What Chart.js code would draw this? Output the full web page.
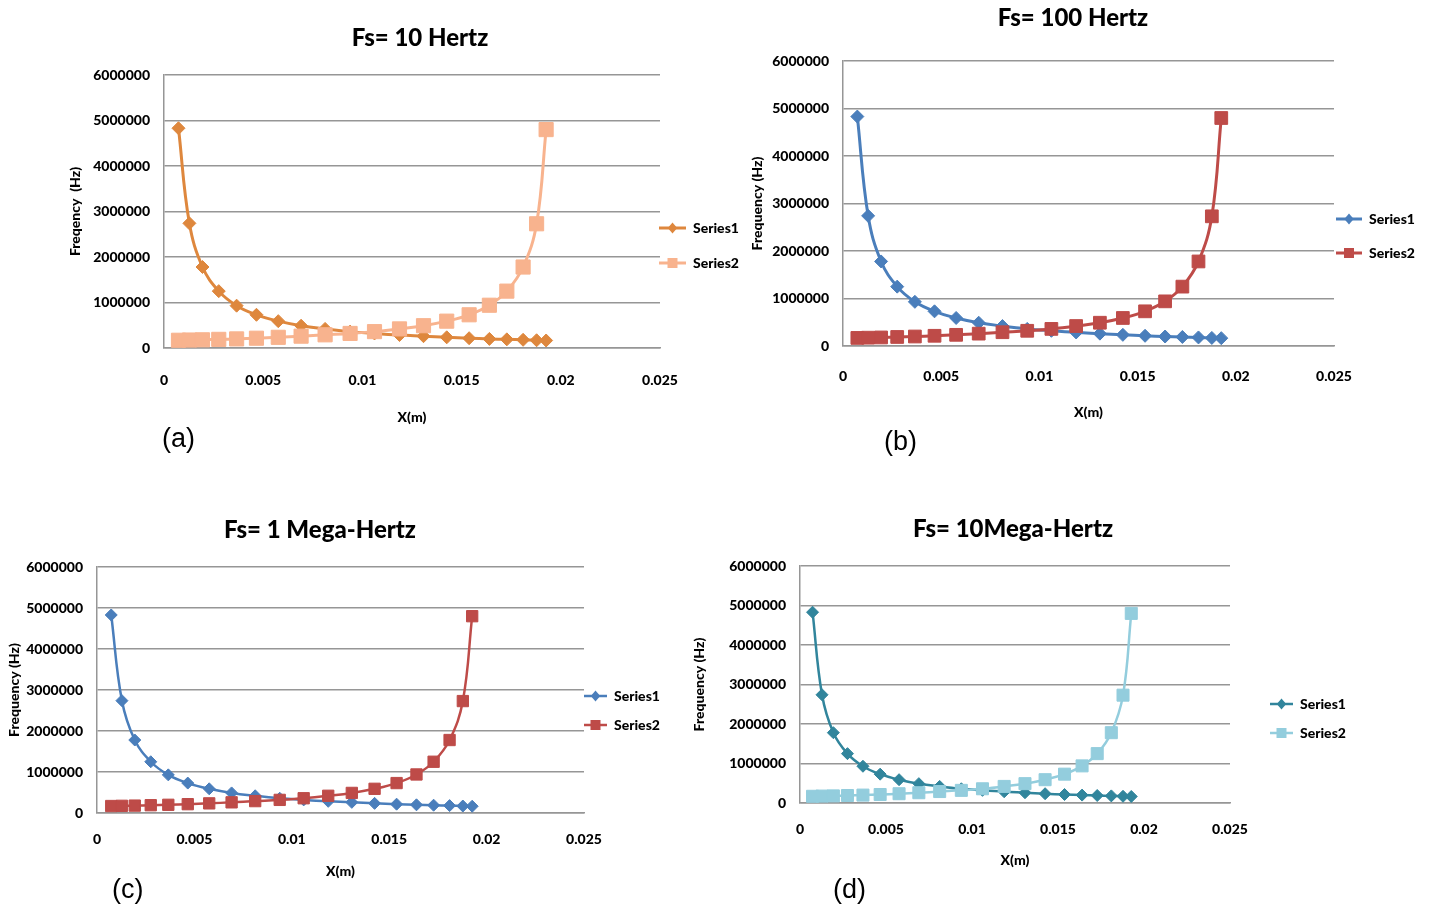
<!DOCTYPE html>
<html><head><meta charset="utf-8">
<script src="https://cdn.jsdelivr.net/npm/chart.js@4.4.1/dist/chart.umd.min.js"></script>
<style>
html,body{margin:0;padding:0;background:#fff;}
#wrap{position:relative;width:1429px;height:911px;overflow:hidden;background:#fff;}
canvas{position:absolute;left:0;top:0;}
.tag{position:absolute;font-family:"Liberation Sans",Arial,sans-serif;font-size:27px;line-height:32px;color:#000;white-space:nowrap;}
</style></head><body>
<div id="wrap">
<canvas id="ca" width="1429" height="911"></canvas>
<canvas id="cb" width="1429" height="911"></canvas>
<canvas id="cc" width="1429" height="911"></canvas>
<canvas id="cd" width="1429" height="911"></canvas>
<div class="tag" style="left:162px;top:422px">(a)</div>
<div class="tag" style="left:884px;top:425px">(b)</div>
<div class="tag" style="left:112px;top:873px">(c)</div>
<div class="tag" style="left:833px;top:873px">(d)</div>
</div>
<script>
// ---- data ----
const seriesNames = ['Series1', 'Series2'];
const xPositionsM = [0.00073, 0.00128, 0.00194, 0.00276, 0.00366, 0.00466, 0.00576, 0.00691, 0.00812, 0.00938,
                     0.01061, 0.01187, 0.01308, 0.01425, 0.01538, 0.0164, 0.01728, 0.0181, 0.01878, 0.01926];
const series1Hz = [4830000, 2740000, 1780000, 1250000, 930000, 730000, 590000, 490000, 420000, 360000,
                   320000, 285000, 260000, 235000, 215000, 200000, 190000, 180000, 170000, 165000];
const series2Hz = [170000, 175000, 180000, 190000, 200000, 215000, 235000, 260000, 290000, 320000,
                   360000, 420000, 490000, 590000, 730000, 940000, 1250000, 1780000, 2730000, 4800000];
const xTickLabels = ['0', '0.005', '0.01', '0.015', '0.02', '0.025'];
const yTickLabels = ['0', '1000000', '2000000', '3000000', '4000000', '5000000', '6000000'];
const chartTitles = ['Fs= 10 Hertz', 'Fs= 100 Hertz', 'Fs= 1 Mega-Hertz', 'Fs= 10Mega-Hertz'];
const yAxisTitles = ['Freqency  (Hz)', 'Frequency (Hz)', 'Frequency (Hz)', 'Frequency (Hz)'];
const xAxisTitle = 'X(m)';

// ---- styling / layout ----
const FAM = 'Lato, "DejaVu Sans Condensed", sans-serif';
const WEIGHT = '900';
const TITLE_SIZE = 24, TICK_SIZE = 14, AXT_SIZE = 14, LEG_SIZE = 14;
const GRID = '#969696';

const layouts = [
  {id:'ca', L:164, R:660, T:75, B:348, titleX:420, titleY:38, yTitleX:75, xTitleY:417, xLabelY:380,
   legendX:659, legendY:245.5, legendGap:21, boxW:27, c1:'#DE873D', c2:'#F8B38E', r1:6.5, r2:10, lw:3},
  {id:'cb', L:843, R:1334, T:61, B:346, titleX:1073, titleY:18, yTitleX:757, xTitleY:412, xLabelY:376,
   legendX:1336, legendY:236, legendGap:20, boxW:26, c1:'#4A7EBB', c2:'#BE4B48', r1:6.5, r2:9, lw:3},
  {id:'cc', L:97, R:584, T:567, B:813, titleX:320, titleY:530, yTitleX:14, xTitleY:871, xLabelY:839,
   legendX:584, legendY:710.5, legendGap:15, boxW:23, c1:'#4A7EBB', c2:'#BE4B48', r1:6, r2:8, lw:2.5},
  {id:'cd', L:800, R:1230, T:566, B:803, titleX:1013, titleY:529, yTitleX:699, xTitleY:860, xLabelY:829,
   legendX:1270, legendY:718.5, legendGap:15, boxW:23, c1:'#31859C', c2:'#93CDDD', r1:6, r2:8.5, lw:2.5}
];

function makeSymbol(color, style, w, lw, r) {
  const c = document.createElement('canvas');
  c.width = w; c.height = 22;
  const ctx = c.getContext('2d');
  const cy = 11, cx = w / 2;
  ctx.strokeStyle = color; ctx.lineWidth = lw;
  ctx.beginPath(); ctx.moveTo(0, cy); ctx.lineTo(w, cy); ctx.stroke();
  ctx.fillStyle = color;
  ctx.beginPath();
  if (style === 'diamond') {
    ctx.moveTo(cx, cy - r); ctx.lineTo(cx + r * 0.85, cy); ctx.lineTo(cx, cy + r); ctx.lineTo(cx - r * 0.85, cy); ctx.closePath();
  } else {
    ctx.rect(cx - r, cy - r, 2 * r, 2 * r);
  }
  ctx.fill();
  return c;
}

const placer = {
  id: 'placer',
  afterLayout(chart, args, o) {
    const t = chart.titleBlock;
    if (t) {
      const dx = o.titleX - (t.left + t.right) / 2;
      const dy = o.titleY - (t.top + t.bottom) / 2;
      t.left += dx; t.right += dx; t.top += dy; t.bottom += dy;
    }
    const lg = chart.legend;
    if (lg) {
      const pad = lg.options.labels.padding;
      const h = lg.bottom - lg.top;
      lg.left = o.legendX - pad; lg.width = 240; lg.right = lg.left + 240;
      lg.top = o.legendY - h / 2; lg.bottom = lg.top + h;
    }
  }
};

const TITLE_H = TITLE_SIZE * 1.2;
const X_H = 80;

layouts.forEach((g, k) => {
  const symbols = [makeSymbol(g.c1, 'diamond', g.boxW, g.lw, 5.5), makeSymbol(g.c2, 'square', g.boxW, g.lw, 5)];
  const LEG_W = 40;
  new Chart(document.getElementById(g.id), {
    type: 'line',
    data: {
      datasets: [
        { label: seriesNames[0], data: xPositionsM.map((x, i) => ({x: x, y: series1Hz[i]})),
          borderColor: g.c1, backgroundColor: g.c1, pointBackgroundColor: g.c1, pointBorderColor: g.c1,
          pointStyle: 'rectRot', pointRadius: g.r1, pointBorderWidth: 1, borderWidth: g.lw, tension: 0.4, order: 2 },
        { label: seriesNames[1], data: xPositionsM.map((x, i) => ({x: x, y: series2Hz[i]})),
          borderColor: g.c2, backgroundColor: g.c2, pointBackgroundColor: g.c2, pointBorderColor: g.c2,
          pointStyle: 'rect', pointRadius: g.r2, pointBorderWidth: 1, borderWidth: g.lw, tension: 0.4, order: 1 }
      ]
    },
    options: {
      responsive: false, animation: false, devicePixelRatio: 1,
      events: [],
      layout: { padding: { left: 0, top: g.T - TITLE_H, right: 1429 - g.R - LEG_W, bottom: 911 - g.B - X_H } },
      scales: {
        x: {
          type: 'linear', min: 0, max: 0.025,
          grid: { display: false, drawTicks: false },
          border: { display: true, color: GRID, width: 1.5 },
          ticks: { stepSize: 0.005, autoSkip: false, maxRotation: 0, color: '#000',
                   font: { family: FAM, size: TICK_SIZE, weight: WEIGHT },
                   padding: g.xLabelY - g.B - TICK_SIZE * 0.6,
                   callback: (v, i) => xTickLabels[i] },
          title: { display: true, text: xAxisTitle, color: '#000',
                   font: { family: FAM, size: AXT_SIZE, weight: WEIGHT },
                   padding: { top: 0, bottom: g.B + X_H - g.xTitleY - AXT_SIZE * 0.6 } },
          afterFit: (s) => { s.height = X_H; }
        },
        y: {
          type: 'linear', min: 0, max: 6000000,
          grid: { color: GRID, lineWidth: 1.5, drawTicks: false },
          border: { display: true, color: GRID, width: 1.5 },
          ticks: { stepSize: 1000000, color: '#000', padding: 14,
                   font: { family: FAM, size: TICK_SIZE, weight: WEIGHT },
                   callback: (v, i) => yTickLabels[i] },
          title: { display: true, text: yAxisTitles[k], color: '#000',
                   font: { family: FAM, size: AXT_SIZE, weight: WEIGHT },
                   padding: { top: g.yTitleX - AXT_SIZE * 0.6, bottom: 0 } },
          afterFit: (s) => { s.width = g.L; }
        }
      },
      plugins: {
        title: { display: true, text: chartTitles[k], color: '#000', padding: 0,
                 font: { family: FAM, size: TITLE_SIZE, weight: WEIGHT } },
        legend: {
          position: 'right', maxWidth: LEG_W,
          labels: {
            usePointStyle: true, pointStyleWidth: g.boxW, padding: g.legendGap, color: '#000',
            font: { family: FAM, size: LEG_SIZE, weight: WEIGHT },
            generateLabels: (chart) => {
              const items = Chart.defaults.plugins.legend.labels.generateLabels(chart);
              items.sort((a, b) => a.datasetIndex - b.datasetIndex);
              items.forEach(it => { it.pointStyle = symbols[it.datasetIndex]; it.fontColor = '#000'; });
              return items;
            }
          }
        },
        tooltip: { enabled: false },
        placer: { titleX: g.titleX, titleY: g.titleY, legendX: g.legendX, legendY: g.legendY }
      }
    },
    plugins: [placer]
  });
});
</script>
</body></html>
